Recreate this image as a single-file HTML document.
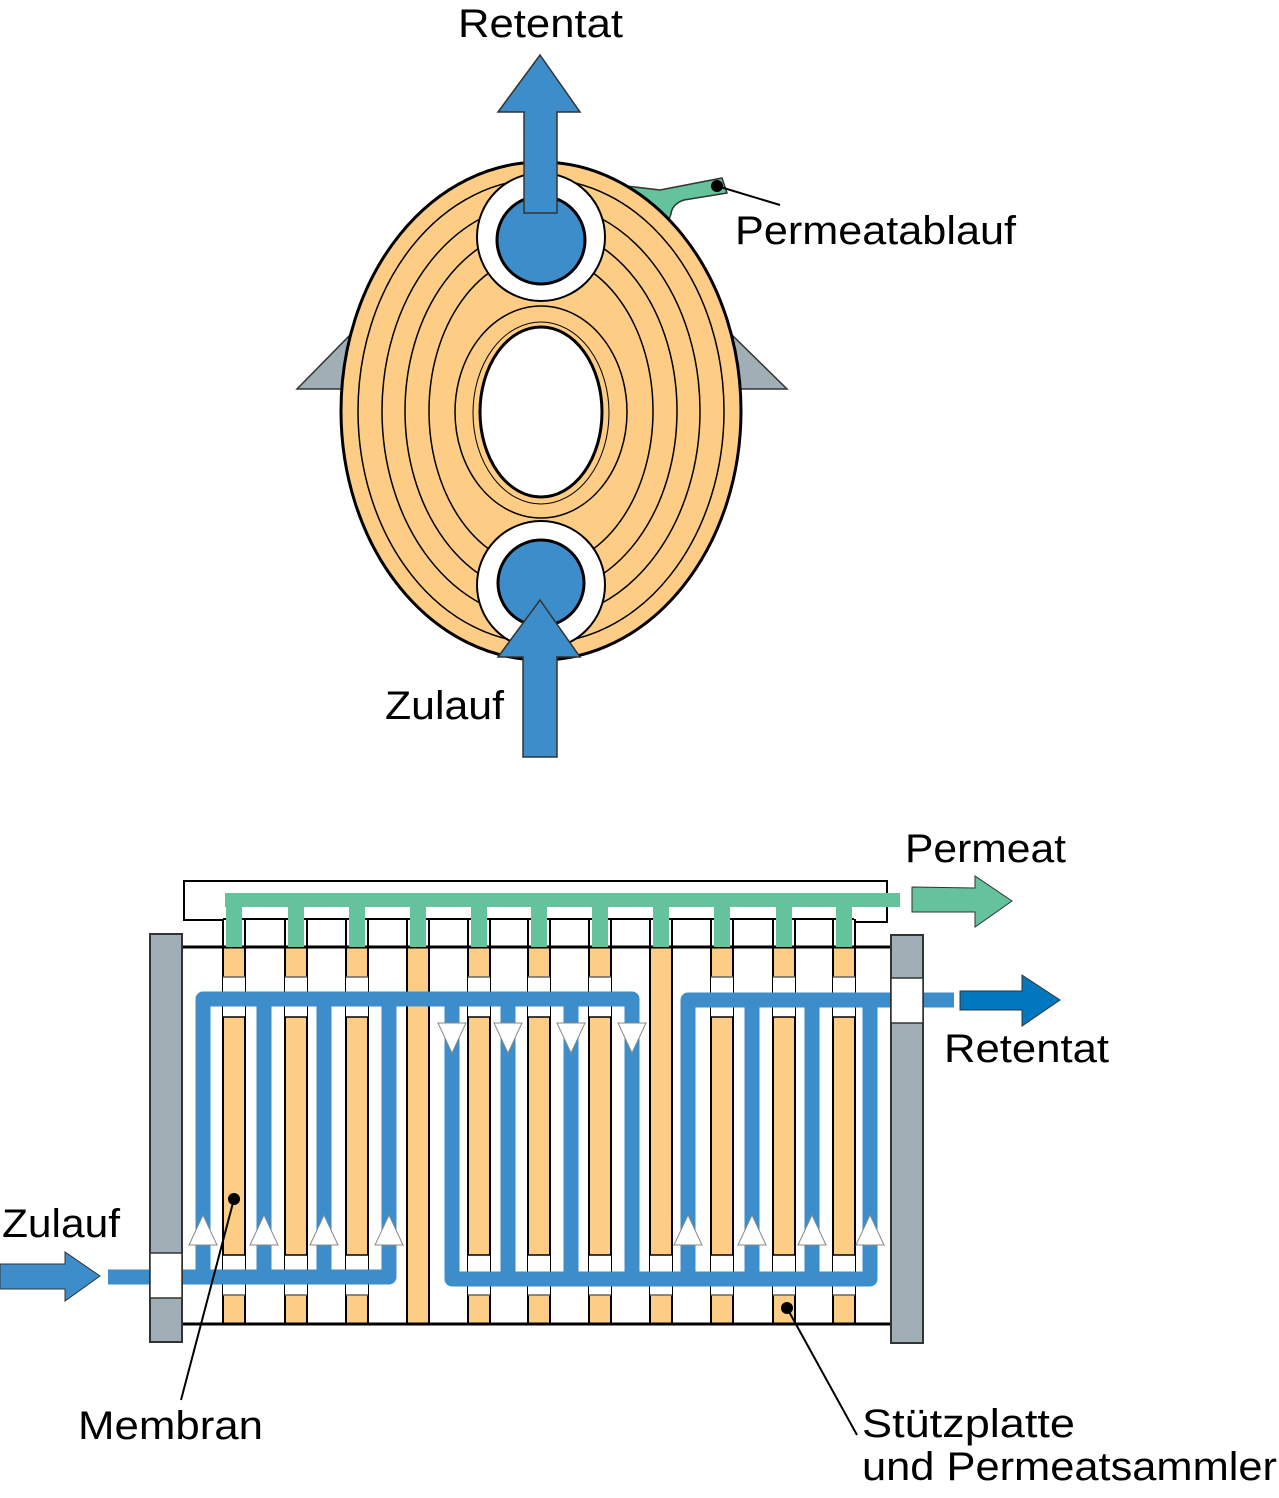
<!DOCTYPE html>
<html><head><meta charset="utf-8"><style>html,body{margin:0;padding:0;background:#fff}svg{display:block}text{font-family:"Liberation Sans",sans-serif;font-size:40px;fill:#000}</style></head><body>
<svg width="1279" height="1498" viewBox="0 0 1279 1498" xmlns="http://www.w3.org/2000/svg">
<defs>
<g id="pB">
<rect x="0" y="947" width="22" height="377" fill="#fdcd85"/>
<line x1="0" y1="919" x2="0" y2="1324" stroke="#000" stroke-width="2"/>
<line x1="22" y1="919" x2="22" y2="1324" stroke="#000" stroke-width="2"/>
</g>
<g id="wTop">
<rect x="0" y="977" width="22" height="40" fill="#fff"/>
<line x1="0" y1="977" x2="22" y2="977" stroke="#666" stroke-width="1.5"/>
<line x1="0" y1="1017" x2="22" y2="1017" stroke="#000" stroke-width="1.5"/>
</g>
<g id="wBot">
<rect x="0" y="1255" width="22" height="40" fill="#fff"/>
<line x1="0" y1="1255" x2="22" y2="1255" stroke="#000" stroke-width="1.5"/>
<line x1="0" y1="1295" x2="22" y2="1295" stroke="#666" stroke-width="1.5"/>
</g>
<g id="pA"><use href="#pB"/><use href="#wTop"/><use href="#wBot"/></g>
<g id="pC"><use href="#pB"/><use href="#wBot"/></g>
<rect id="stem" x="3" y="905" width="16" height="42" fill="#64c39c"/>
</defs>
<!-- TOP DIAGRAM -->
<polygon points="297,389 352,333 352,389" fill="#a0afb6" stroke="#333" stroke-width="1.5"/>
<polygon points="730,333 787,389 730,389" fill="#a0afb6" stroke="#333" stroke-width="1.5"/>
<path d="M626,186 L660,190 L722,178 L727,193 L684,200 Q672,204 671,214 L668,222 Z" fill="#64c39c" stroke="#333" stroke-width="1.5"/>
<ellipse cx="541" cy="411" rx="200" ry="249" fill="#fdcd85" stroke="#000" stroke-width="3"/>
<g fill="none" stroke="#000" stroke-width="1.5">
<ellipse cx="541" cy="411" rx="183" ry="232"/>
<ellipse cx="541" cy="411" rx="159" ry="208"/>
<ellipse cx="541" cy="411" rx="136" ry="183"/>
<ellipse cx="541" cy="411" rx="112" ry="156"/>
<ellipse cx="541" cy="412" rx="86" ry="106"/>
<ellipse cx="541" cy="413" rx="68" ry="91" stroke-width="1"/>
</g>
<ellipse cx="541" cy="412" rx="61" ry="85" fill="#fff" stroke="#000" stroke-width="3"/>
<circle cx="541" cy="237" r="64" fill="#fff" stroke="#000" stroke-width="2"/>
<circle cx="541" cy="240" r="44" fill="#3d8dca" stroke="#000" stroke-width="3"/>
<circle cx="541" cy="585" r="64" fill="#fff" stroke="#000" stroke-width="2"/>
<circle cx="541" cy="583" r="43" fill="#3d8dca" stroke="#000" stroke-width="3"/>
<polygon points="524,213 557,213 557,112 580,112 540,55 498,112 524,112" fill="#3d8dca" stroke="#333" stroke-width="1.5"/>
<polygon points="523,757 557,757 557,657 580,657 540,600 498,657 523,657" fill="#3d8dca" stroke="#333" stroke-width="1.5"/>
<circle cx="717" cy="186" r="6" fill="#000"/>
<line x1="717" y1="186" x2="780" y2="205" stroke="#000" stroke-width="2"/>
<text x="458" y="37" textLength="165" lengthAdjust="spacingAndGlyphs">Retentat</text>
<text x="735" y="244" textLength="281" lengthAdjust="spacingAndGlyphs">Permeatablauf</text>
<text x="385" y="719" textLength="119" lengthAdjust="spacingAndGlyphs">Zulauf</text>

<!-- BOTTOM DIAGRAM -->
<polyline points="223,947 223,920 184,920 184,881 887,881 887,922 854,922" fill="none" stroke="#000" stroke-width="2"/>
<line x1="223" y1="919" x2="854" y2="919" stroke="#000" stroke-width="2"/>
<use href="#pA" x="223"/>
<use href="#pA" x="285"/>
<use href="#pA" x="346"/>
<use href="#pB" x="407"/>
<use href="#pA" x="468"/>
<use href="#pA" x="528"/>
<use href="#pA" x="589"/>
<use href="#pC" x="650"/>
<use href="#pA" x="711"/>
<use href="#pA" x="773"/>
<use href="#pA" x="833"/>
<line x1="182" y1="947" x2="890" y2="947" stroke="#000" stroke-width="3"/>
<line x1="182" y1="1324" x2="890" y2="1324" stroke="#000" stroke-width="3"/>
<rect x="225" y="893" width="675" height="14" fill="#64c39c"/>
<use href="#stem" x="223"/><use href="#stem" x="285"/><use href="#stem" x="346"/><use href="#stem" x="407"/>
<use href="#stem" x="468"/><use href="#stem" x="528"/><use href="#stem" x="589"/><use href="#stem" x="650"/>
<use href="#stem" x="711"/><use href="#stem" x="773"/><use href="#stem" x="833"/>
<g fill="none" stroke="#3d8dca" stroke-width="15" stroke-linejoin="round">
<polyline points="108,1277 389,1277 389,999"/>
<polyline points="203,1277 203,999 632,999 632,1279"/>
<line x1="264" y1="999" x2="264" y2="1277"/>
<line x1="324" y1="999" x2="324" y2="1277"/>
<polyline points="452,999 452,1279 870,1279 870,1000"/>
<line x1="508" y1="999" x2="508" y2="1279"/>
<line x1="571" y1="999" x2="571" y2="1279"/>
<polyline points="688,1279 688,1000 954,1000"/>
<line x1="752" y1="1000" x2="752" y2="1279"/>
<line x1="812" y1="1000" x2="812" y2="1279"/>
</g>
<g fill="#fff" stroke="#888" stroke-width="1">
<polygon points="189,1245 217,1245 203,1215"/>
<polygon points="250,1245 278,1245 264,1215"/>
<polygon points="310,1245 338,1245 324,1215"/>
<polygon points="375,1245 403,1245 389,1215"/>
<polygon points="674,1245 702,1245 688,1215"/>
<polygon points="738,1245 766,1245 752,1215"/>
<polygon points="798,1245 826,1245 812,1215"/>
<polygon points="856,1245 884,1245 870,1215"/>
<polygon points="438,1023 466,1023 452,1053"/>
<polygon points="494,1023 522,1023 508,1053"/>
<polygon points="557,1023 585,1023 571,1053"/>
<polygon points="618,1023 646,1023 632,1053"/>
</g>
<rect x="150" y="934" width="32" height="408" fill="#a0afb6" stroke="#333" stroke-width="2"/>
<rect x="150" y="1253" width="32" height="45" fill="#fff" stroke="#333" stroke-width="1.5"/>
<rect x="891" y="935" width="32" height="408" fill="#a0afb6" stroke="#333" stroke-width="2"/>
<rect x="891" y="978" width="32" height="45" fill="#fff" stroke="#333" stroke-width="1.5"/>
<polygon points="0,1264 65,1264 65,1252 100,1276 65,1301 65,1289 0,1289" fill="#3d8dca" stroke="#333" stroke-width="1"/>
<polygon points="912,887 975,888 975,876 1012,901 975,927 975,912 912,912" fill="#64c39c" stroke="#333" stroke-width="1"/>
<polygon points="960,991 1022,991 1022,975 1060,1000 1022,1026 1022,1010 960,1010" fill="#0077be" stroke="#333" stroke-width="1"/>
<circle cx="234" cy="1199" r="6" fill="#000"/>
<line x1="234" y1="1199" x2="181" y2="1400" stroke="#000" stroke-width="2"/>
<circle cx="787" cy="1308" r="6" fill="#000"/>
<line x1="787" y1="1308" x2="857" y2="1435" stroke="#000" stroke-width="2"/>
<text x="905" y="862" textLength="161" lengthAdjust="spacingAndGlyphs">Permeat</text>
<text x="944" y="1062" textLength="165" lengthAdjust="spacingAndGlyphs">Retentat</text>
<text x="2" y="1237" textLength="118" lengthAdjust="spacingAndGlyphs">Zulauf</text>
<text x="78" y="1439" textLength="185" lengthAdjust="spacingAndGlyphs">Membran</text>
<text x="862" y="1437" textLength="213" lengthAdjust="spacingAndGlyphs">Stützplatte</text>
<text x="862" y="1480" textLength="415" lengthAdjust="spacingAndGlyphs">und Permeatsammler</text>
</svg>
</body></html>
